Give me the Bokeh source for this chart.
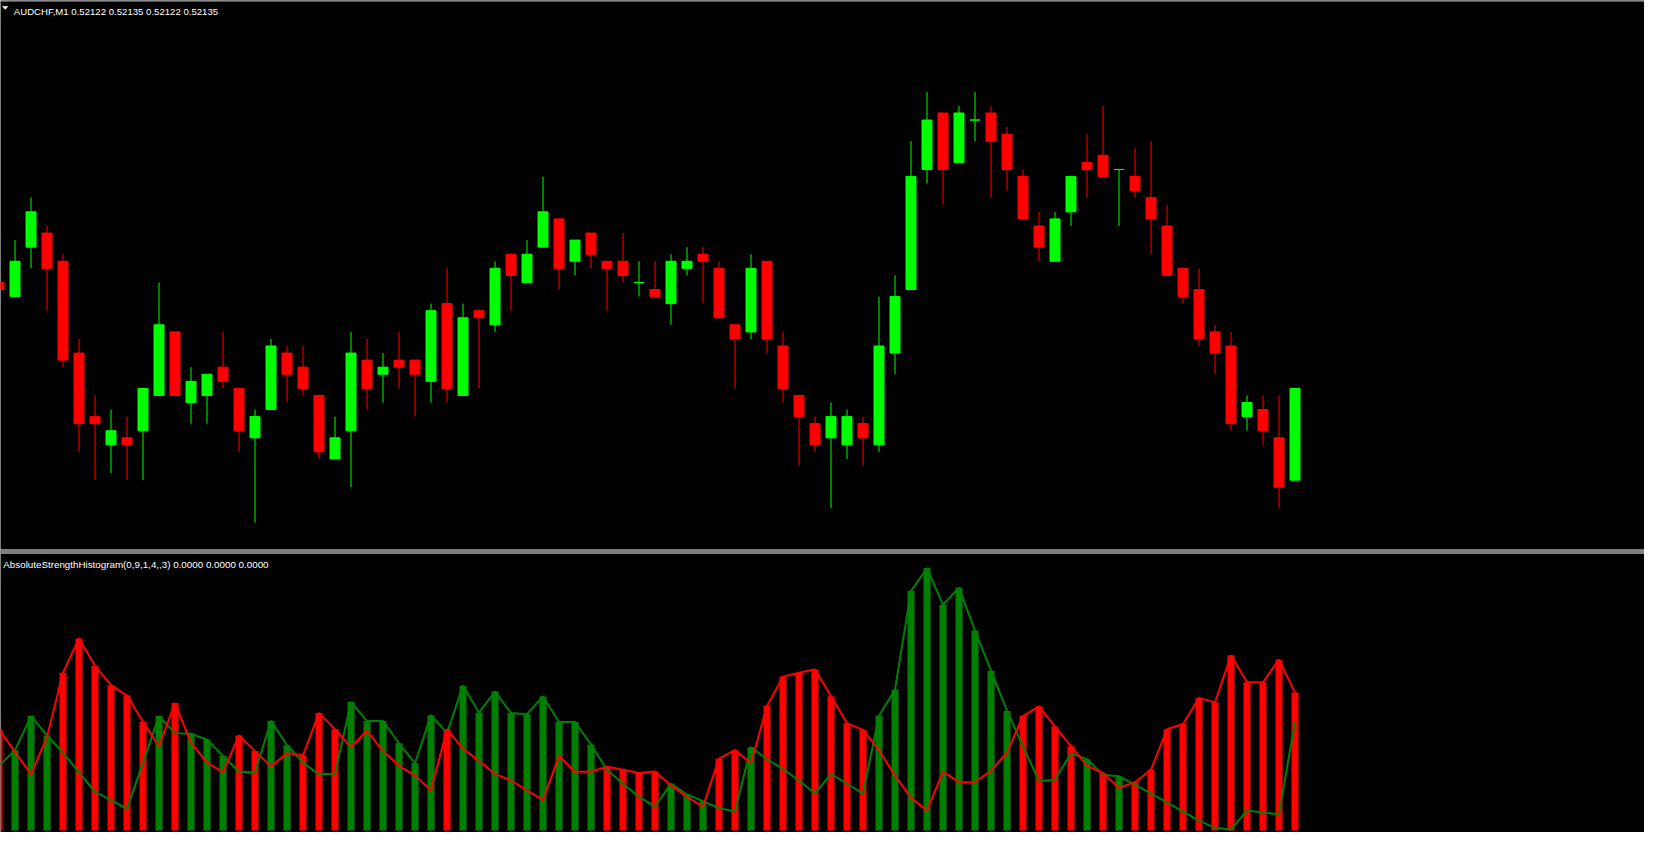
from bokeh.plotting import figure
from bokeh.models import Range1d, Label, Span, ColumnDataSource, PolyAnnotation
from bokeh.layouts import column
from bokeh.embed import file_html
from bokeh.resources import INLINE

# ---------------- data (AUDCHF, M1) ----------------
opens = [0.52150, 0.52148, 0.52155, 0.52157, 0.52153, 0.52140, 0.52131, 0.52127, 0.52128, 0.52129,
         0.52134, 0.52143, 0.52133, 0.52134, 0.52138, 0.52135, 0.52128, 0.52132, 0.52140, 0.52138,
         0.52134, 0.52125, 0.52129, 0.52139, 0.52137, 0.52139, 0.52139, 0.52136, 0.52147, 0.52134,
         0.52146, 0.52144, 0.52154, 0.52150, 0.52155, 0.52159, 0.52153, 0.52157, 0.52153, 0.52153,
         0.52150, 0.52149, 0.52147, 0.52152, 0.52154, 0.52152, 0.52144, 0.52143, 0.52153, 0.52141,
         0.52134, 0.52130, 0.52128, 0.52127, 0.52130, 0.52127, 0.52140, 0.52149, 0.52166, 0.52174,
         0.52167, 0.52173, 0.52174, 0.52171, 0.52165, 0.52158, 0.52153, 0.52160, 0.52167, 0.52168,
         0.52166, 0.52165, 0.52162, 0.52158, 0.52152, 0.52149, 0.52143, 0.52141, 0.52131, 0.52132,
         0.52128, 0.52122]
highs = [0.52150, 0.52156, 0.52162, 0.52158, 0.52154, 0.52142, 0.52134, 0.52132, 0.52131, 0.52135,
         0.52150, 0.52143, 0.52138, 0.52137, 0.52143, 0.52135, 0.52132, 0.52142, 0.52141, 0.52141,
         0.52134, 0.52131, 0.52143, 0.52142, 0.52140, 0.52143, 0.52139, 0.52147, 0.52152, 0.52147,
         0.52146, 0.52153, 0.52154, 0.52156, 0.52165, 0.52159, 0.52156, 0.52157, 0.52153, 0.52157,
         0.52153, 0.52153, 0.52154, 0.52155, 0.52155, 0.52153, 0.52144, 0.52154, 0.52153, 0.52143,
         0.52134, 0.52131, 0.52133, 0.52132, 0.52131, 0.52148, 0.52151, 0.52170, 0.52177, 0.52174,
         0.52175, 0.52177, 0.52175, 0.52172, 0.52166, 0.52160, 0.52160, 0.52165, 0.52171, 0.52175,
         0.52166, 0.52169, 0.52170, 0.52161, 0.52152, 0.52152, 0.52144, 0.52143, 0.52134, 0.52134,
         0.52134, 0.52135]
lows = [0.52149, 0.52148, 0.52152, 0.52146, 0.52138, 0.52126, 0.52122, 0.52123, 0.52122, 0.52122,
        0.52134, 0.52134, 0.52130, 0.52130, 0.52135, 0.52126, 0.52116, 0.52132, 0.52133, 0.52134,
        0.52125, 0.52125, 0.52121, 0.52132, 0.52133, 0.52135, 0.52131, 0.52133, 0.52133, 0.52134,
        0.52135, 0.52143, 0.52146, 0.52150, 0.52155, 0.52149, 0.52151, 0.52152, 0.52146, 0.52150,
        0.52148, 0.52148, 0.52144, 0.52151, 0.52147, 0.52145, 0.52135, 0.52142, 0.52140, 0.52133,
        0.52124, 0.52126, 0.52118, 0.52125, 0.52124, 0.52126, 0.52137, 0.52149, 0.52164, 0.52161,
        0.52167, 0.52170, 0.52162, 0.52163, 0.52159, 0.52153, 0.52153, 0.52158, 0.52162, 0.52165,
        0.52158, 0.52162, 0.52154, 0.52151, 0.52147, 0.52141, 0.52137, 0.52129, 0.52129, 0.52127,
        0.52118, 0.52122]
closes = [0.52149, 0.52153, 0.52160, 0.52152, 0.52139, 0.52130, 0.52130, 0.52129, 0.52127, 0.52135,
          0.52144, 0.52134, 0.52136, 0.52137, 0.52136, 0.52129, 0.52131, 0.52141, 0.52137, 0.52135,
          0.52126, 0.52128, 0.52140, 0.52135, 0.52138, 0.52138, 0.52137, 0.52146, 0.52135, 0.52145,
          0.52145, 0.52152, 0.52151, 0.52154, 0.52160, 0.52152, 0.52156, 0.52154, 0.52152, 0.52151,
          0.52150, 0.52148, 0.52153, 0.52153, 0.52153, 0.52145, 0.52142, 0.52152, 0.52142, 0.52135,
          0.52131, 0.52127, 0.52131, 0.52131, 0.52128, 0.52141, 0.52148, 0.52165, 0.52173, 0.52166,
          0.52174, 0.52173, 0.52170, 0.52166, 0.52159, 0.52155, 0.52159, 0.52165, 0.52166, 0.52165,
          0.52166, 0.52163, 0.52159, 0.52151, 0.52148, 0.52142, 0.52140, 0.52130, 0.52133, 0.52129,
          0.52121, 0.52135]

# Absolute Strength Histogram: bulls (green) and bears (red)
bulls = [6.60, 8.20, 11.67, 9.70, 7.93, 5.93, 3.93, 3.10, 2.20, 6.93,
         11.67, 9.93, 9.87, 9.27, 7.60, 6.00, 5.93, 11.20, 8.70, 6.93,
         5.73, 5.80, 13.10, 11.17, 11.17, 8.90, 6.87, 11.77, 9.93, 14.77,
         12.03, 14.17, 12.00, 11.87, 13.67, 11.07, 11.07, 8.77, 6.20, 4.77,
         3.43, 2.43, 4.77, 3.67, 3.00, 2.27, 1.93, 8.50, 7.27, 6.27,
         5.10, 3.77, 5.77, 4.77, 3.77, 11.70, 14.37, 24.43, 26.77, 23.03,
         24.77, 20.40, 16.30, 12.20, 8.60, 5.03, 5.17, 7.87, 7.27, 5.67,
         5.53, 4.67, 3.77, 2.87, 1.93, 1.00, 0.27, 0.10, 2.03, 1.83,
         1.67, 11.10]
bears = [10.33, 8.03, 5.73, 9.53, 16.10, 19.60, 16.80, 14.83, 13.77, 11.10,
         8.60, 13.00, 8.93, 6.93, 5.93, 9.70, 8.10, 6.53, 7.87, 7.67,
         12.00, 10.33, 8.50, 10.17, 8.10, 6.60, 5.60, 4.10, 10.33, 8.33,
         7.10, 5.77, 5.10, 4.10, 3.10, 7.60, 6.00, 6.00, 6.50, 6.20,
         5.87, 6.03, 4.60, 3.43, 2.43, 7.33, 8.20, 6.87, 12.70, 15.70,
         16.10, 16.43, 13.70, 10.93, 10.27, 8.20, 5.60, 3.33, 2.03, 6.00,
         4.93, 4.93, 6.10, 7.93, 11.67, 12.67, 10.60, 8.60, 6.60, 5.87,
         4.33, 4.93, 6.20, 10.33, 10.87, 13.53, 13.07, 17.87, 15.13, 15.13,
         17.43, 14.07]

title_main = "AUDCHF,M1  0.52122 0.52135 0.52122 0.52135"
title_ind = "AbsoluteStrengthHistogram(0,9,1,4,,3) 0.0000 0.0000 0.0000"

# ---------------- styles ----------------
BULL = "#00FF00"
BEAR = "#FF0000"
HBULL = "#008000"
HBEAR = "#FF0000"
BG = "#000000"

W, H1, H2 = 1644, 549, 283

idx = list(range(len(opens)))
ccol = [BULL if c >= o else BEAR for o, c in zip(opens, closes)]
src = ColumnDataSource(dict(
    x=idx, h=highs, l=lows,
    top=[max(o, c) for o, c in zip(opens, closes)],
    bottom=[min(o, c) for o, c in zip(opens, closes)],
    color=ccol))

xr = Range1d(0.09375, 102.84375)


def base_fig(h, yr):
    f = figure(width=W, height=h, x_range=xr, y_range=yr, output_backend="svg",
               toolbar_location=None, x_axis_location=None, y_axis_location=None,
               min_border=0, background_fill_color=BG, border_fill_color=BG,
               outline_line_color=None)
    f.grid.visible = False
    return f


# ---------------- price pane ----------------
p1 = base_fig(H1, Range1d(0.5211218, 0.5218993))
p1.extra_y_ranges = {"frame": Range1d(H1, 0)}
p1.segment(x0="x", y0="l", x1="x", y1="h", line_color="color", line_width=1, source=src)
p1.vbar(x="x", top="top", bottom="bottom", width=0.625, fill_color="color",
        line_color="color", line_width=1, source=src)
p1.add_layout(Span(location=0.5, dimension="width", y_range_name="frame",
                   line_color="#B0B0B0", line_width=1))
p1.add_layout(PolyAnnotation(xs=[1.8, 7.6, 4.7], ys=[H1 - 5.8, H1 - 5.8, H1 - 8.9],
                             xs_units="screen", ys_units="screen",
                             fill_color="white", fill_alpha=1.0, line_color="white"))
p1.add_layout(Label(x=13.3, y=H1 - 11.0, x_units="screen", y_units="screen",
                    text=title_main, text_color="white", text_font_size="9.6px",
                    text_font="Liberation Sans", text_baseline="alphabetic"))

# ---------------- indicator pane ----------------
hist = [max(b, s) for b, s in zip(bulls, bears)]
hcol = [HBULL if b > s else HBEAR for b, s in zip(bulls, bears)]
isrc = ColumnDataSource(dict(x=idx, hist=hist, color=hcol, bulls=bulls, bears=bears))

p2 = base_fig(H2, Range1d(-0.204, 28.67))
p2.extra_y_ranges = {"frame": Range1d(H2, 0)}
p2.vbar(x="x", top="hist", bottom=0, width=0.4375, fill_color="color", line_color=None, source=isrc)
p2.line(x="x", y="bulls", line_color=HBULL, line_width=2, source=isrc)
p2.line(x="x", y="bears", line_color=HBEAR, line_width=2, source=isrc)
for loc in (1.5, 3.5):
    p2.add_layout(Span(location=loc, dimension="width", y_range_name="frame",
                       line_color="white", line_width=1))
p2.add_layout(Label(x=2.8, y=H2 - 15.0, x_units="screen", y_units="screen",
                    text=title_ind, text_color="white", text_font_size="9.8px",
                    text_font="Liberation Sans", text_baseline="alphabetic"))

layout = column(p1, p2, spacing=0)
open("out.html", "w").write(file_html(layout, INLINE))
